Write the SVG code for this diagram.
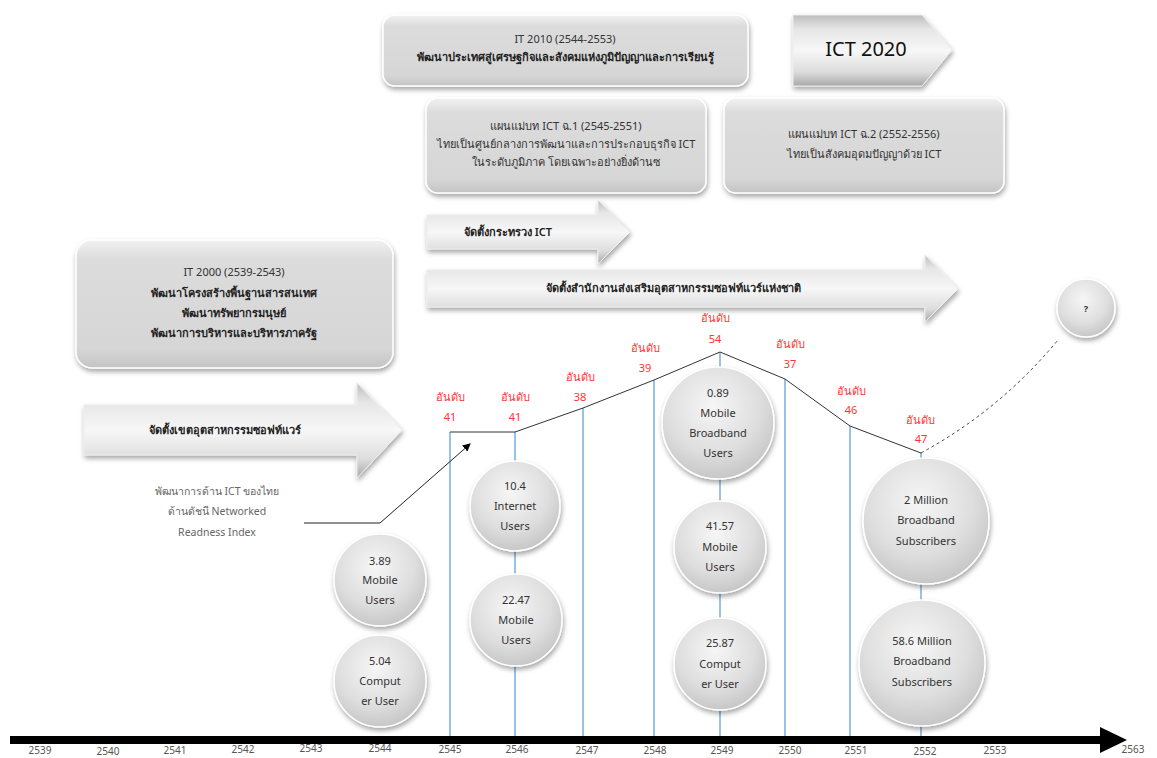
<svg xmlns="http://www.w3.org/2000/svg" width="1157" height="758" viewBox="0 0 1157 758">
<defs>
<linearGradient id="boxg" x1="0" y1="0" x2="0" y2="1">
<stop offset="0" stop-color="#f2f2f2"/><stop offset="0.15" stop-color="#dcdcdc"/><stop offset="0.85" stop-color="#d6d6d6"/><stop offset="1" stop-color="#c4c4c4"/>
</linearGradient>
<linearGradient id="arrg" x1="0" y1="0" x2="0" y2="1">
<stop offset="0" stop-color="#bdbdbd"/><stop offset="0.2" stop-color="#e6e6e6"/><stop offset="0.5" stop-color="#f7f7f7"/><stop offset="0.8" stop-color="#dddddd"/><stop offset="1" stop-color="#a8a8a8"/>
</linearGradient>
<radialGradient id="circg" cx="0.45" cy="0.35" r="0.7">
<stop offset="0" stop-color="#f6f6f6"/><stop offset="0.6" stop-color="#dedede"/><stop offset="1" stop-color="#c2c2c2"/>
</radialGradient>
<filter id="sh" x="-20%" y="-20%" width="140%" height="150%">
<feDropShadow dx="1" dy="3" stdDeviation="2.5" flood-color="#000" flood-opacity="0.35"/>
</filter>
<marker id="ah" markerWidth="8" markerHeight="8" refX="7" refY="4" orient="auto" markerUnits="userSpaceOnUse">
<path d="M0,0 L8,4 L0,8 z" fill="#000"/>
</marker>
</defs>
<style>
.box{fill:url(#boxg);stroke:#ffffff;stroke-width:1.5;filter:url(#sh)}
.arr{fill:url(#arrg);stroke:#ececec;stroke-width:1;filter:url(#sh)}
.circ{fill:url(#circg);stroke:#ffffff;stroke-width:1.5;filter:url(#sh)}
.t{font-family:"Noto Sans","DejaVu Sans",Tahoma,sans-serif;font-size:11px;fill:#333;text-anchor:middle}
.tb{font-family:"Noto Sans","DejaVu Sans",Tahoma,sans-serif;font-size:11px;fill:#222;text-anchor:middle;font-weight:600}
.ct{font-family:"Noto Sans","DejaVu Sans",Tahoma,sans-serif;font-size:11px;fill:#333;text-anchor:middle}
.rk{font-family:"Noto Sans","DejaVu Sans",Tahoma,sans-serif;font-size:11px;fill:#ff3333;text-anchor:middle}
.ax{font-family:"Noto Sans","DejaVu Sans",Tahoma,sans-serif;font-size:10px;fill:#555;text-anchor:middle}
.gt{font-family:"Noto Sans","DejaVu Sans",Tahoma,sans-serif;font-size:10.5px;fill:#666;text-anchor:middle}
.vl{stroke:#7aaee0;stroke-width:1.5;fill:none}
</style>

<g id="connectors">
<path class="vl" d="M450,432 V736 M515,432 V736 M583,408 V736 M654,380 V736 M720,352 V736 M785,379 V736 M850,426 V736 M921,453 V736"/>
<polyline points="450,432 515,432 583,408 654,380 720,352 785,379 850,426 921,453" fill="none" stroke="#333" stroke-width="1"/>
<path d="M921,453 Q1000,410 1058,340" fill="none" stroke="#444" stroke-width="1" stroke-dasharray="3,3"/>
<polyline points="304,523 380,523 470,444" fill="none" stroke="#222" stroke-width="1" marker-end="url(#ah)"/>
</g>

<g id="axis">
<rect x="10" y="736" width="1092" height="8" fill="#000"/>
<path d="M1100,727 L1127,740 L1100,753 z" fill="#000"/>
<text class="ax" x="40" y="754">2539</text>
<text class="ax" x="108" y="755">2540</text>
<text class="ax" x="175" y="754">2541</text>
<text class="ax" x="243" y="753">2542</text>
<text class="ax" x="311" y="752">2543</text>
<text class="ax" x="380" y="752">2544</text>
<text class="ax" x="450" y="753">2545</text>
<text class="ax" x="517" y="753">2546</text>
<text class="ax" x="587" y="754">2547</text>
<text class="ax" x="655" y="754">2548</text>
<text class="ax" x="722" y="754">2549</text>
<text class="ax" x="790" y="754">2550</text>
<text class="ax" x="856" y="754">2551</text>
<text class="ax" x="925" y="755">2552</text>
<text class="ax" x="995" y="754">2553</text>
<text class="ax" x="1133" y="753">2563</text>
</g>

<g id="it2010">
<rect class="box" x="383" y="15" width="365" height="71" rx="12"/>
<text class="t" x="565" y="43">IT 2010 (2544-2553)</text>
<text class="tb" x="565" y="61">พัฒนาประเทศสู่เศรษฐกิจและสังคมแห่งภูมิปัญญาและการเรียนรู้</text>
</g>

<g id="ict2020">
<path class="arr" d="M793,15 H922 L952,50 L922,86 H793 z"/>
<text x="866" y="56" style="font-family:'Noto Sans','DejaVu Sans',Tahoma,sans-serif;font-size:20px;fill:#111;text-anchor:middle">ICT 2020</text>
</g>

<g id="plan1">
<rect class="box" x="426" y="98" width="280" height="95" rx="12"/>
<text class="t" x="566" y="130">แผนแม่บท ICT ฉ.1 (2545-2551)</text>
<text class="t" x="566" y="148">ไทยเป็นศูนย์กลางการพัฒนาและการประกอบธุรกิจ ICT</text>
<text class="t" x="566" y="166">ในระดับภูมิภาค โดยเฉพาะอย่างยิ่งด้านซ</text>
</g>

<g id="plan2">
<rect class="box" x="724" y="98" width="280" height="95" rx="12"/>
<text class="t" x="864" y="138">แผนแม่บท ICT ฉ.2 (2552-2556)</text>
<text class="t" x="864" y="158">ไทยเป็นสังคมอุดมปัญญาด้วย ICT</text>
</g>

<g id="ministry">
<path class="arr" d="M427,215 H598 V200 L630,232 L598,264 V249 H427 z"/>
<text class="tb" x="508" y="236">จัดตั้งกระทรวง ICT</text>
</g>

<g id="sipa">
<path class="arr" d="M427,270 H925 V255 L958,289 L925,322 V307 H427 z"/>
<text class="tb" x="673" y="292">จัดตั้งสำนักงานส่งเสริมอุตสาหกรรมซอฟท์แวร์แห่งชาติ</text>
</g>

<g id="it2000">
<rect class="box" x="76" y="240" width="317" height="128" rx="16"/>
<text class="t" x="234" y="276">IT 2000 (2539-2543)</text>
<text class="tb" x="234" y="297">พัฒนาโครงสร้างพื้นฐานสารสนเทศ</text>
<text class="tb" x="234" y="317">พัฒนาทรัพยากรมนุษย์</text>
<text class="tb" x="234" y="337">พัฒนาการบริหารและบริหารภาครัฐ</text>
</g>

<g id="swpark">
<path class="arr" d="M84,405 H357 V383 L402,430 L357,478 V455 H84 z"/>
<text class="tb" x="225" y="434">จัดตั้งเขตอุตสาหกรรมซอฟท์แวร์</text>
</g>

<g id="nri-label">
<text class="gt" x="217" y="495">พัฒนาการด้าน ICT ของไทย</text>
<text class="gt" x="217" y="515">ด้านดัชนี Networked</text>
<text class="gt" x="217" y="536">Readness Index</text>
</g>

<g id="ranks">
<text class="rk" x="450" y="401">อันดับ</text><text class="rk" x="450" y="421">41</text>
<text class="rk" x="515" y="401">อันดับ</text><text class="rk" x="515" y="421">41</text>
<text class="rk" x="580" y="381">อันดับ</text><text class="rk" x="580" y="401">38</text>
<text class="rk" x="645" y="352">อันดับ</text><text class="rk" x="645" y="372">39</text>
<text class="rk" x="715" y="322">อันดับ</text><text class="rk" x="715" y="343">54</text>
<text class="rk" x="790" y="348">อันดับ</text><text class="rk" x="790" y="368">37</text>
<text class="rk" x="851" y="395">อันดับ</text><text class="rk" x="851" y="414">46</text>
<text class="rk" x="920" y="424">อันดับ</text><text class="rk" x="921" y="443">47</text>
</g>

<g id="c-389">
<circle class="circ" cx="380" cy="580" r="46"/>
<text class="ct" x="380" y="565">3.89</text><text class="ct" x="380" y="584">Mobile</text><text class="ct" x="380" y="604">Users</text>
</g>
<g id="c-504">
<circle class="circ" cx="380" cy="681" r="46"/>
<text class="ct" x="380" y="665">5.04</text><text class="ct" x="380" y="685">Comput</text><text class="ct" x="380" y="705">er User</text>
</g>
<g id="c-104">
<circle class="circ" cx="515" cy="506" r="45"/>
<text class="ct" x="515" y="490">10.4</text><text class="ct" x="515" y="510">Internet</text><text class="ct" x="515" y="530">Users</text>
</g>
<g id="c-2247">
<circle class="circ" cx="516" cy="620" r="46"/>
<text class="ct" x="516" y="604">22.47</text><text class="ct" x="516" y="624">Mobile</text><text class="ct" x="516" y="644">Users</text>
</g>
<g id="c-089">
<circle class="circ" cx="718" cy="423" r="56"/>
<text class="ct" x="718" y="397">0.89</text><text class="ct" x="718" y="417">Mobile</text><text class="ct" x="718" y="437">Broadband</text><text class="ct" x="718" y="457">Users</text>
</g>
<g id="c-4157">
<circle class="circ" cx="720" cy="547" r="46"/>
<text class="ct" x="720" y="530">41.57</text><text class="ct" x="720" y="551">Mobile</text><text class="ct" x="720" y="571">Users</text>
</g>
<g id="c-2587">
<circle class="circ" cx="720" cy="664" r="46"/>
<text class="ct" x="720" y="647">25.87</text><text class="ct" x="720" y="668">Comput</text><text class="ct" x="720" y="688">er User</text>
</g>
<g id="c-2m">
<circle class="circ" cx="926" cy="521" r="63"/>
<text class="ct" x="926" y="504">2 Million</text><text class="ct" x="926" y="524">Broadband</text><text class="ct" x="926" y="545">Subscribers</text>
</g>
<g id="c-586m">
<circle class="circ" cx="922" cy="663" r="63"/>
<text class="ct" x="922" y="645">58.6 Million</text><text class="ct" x="922" y="665">Broadband</text><text class="ct" x="922" y="686">Subscribers</text>
</g>
<g id="c-q">
<circle class="circ" cx="1086" cy="308" r="29"/>
<text class="ct" x="1086" y="312" style="font-size:9px;font-weight:bold">?</text>
</g>
</svg>
